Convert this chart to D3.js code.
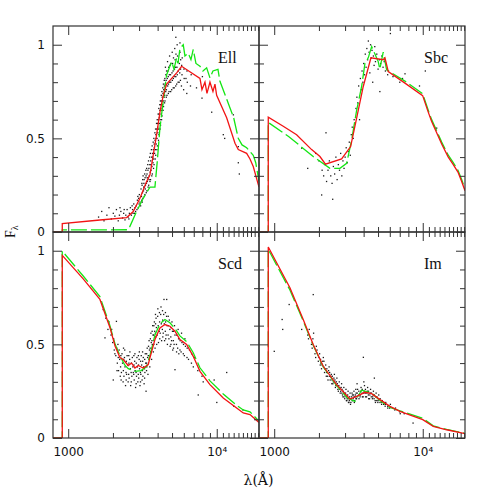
<!DOCTYPE html>
<html>
<head>
<meta charset="utf-8">
<script src="https://cdn.jsdelivr.net/npm/d3@7"></script>
<style>
body { margin: 0; background: #fff; }
svg { display: block; }
</style>
</head>
<body>
<svg id="chart" width="491" height="491"></svg>
<script>
//----------data-------------
var panelNames = ["Ell", "Sbc", "Scd", "Im"];

var xTickValues = [1000, 2000, 3000, 4000, 5000, 6000, 7000, 8000, 9000, 10000,
                   11000, 12000, 13000, 14000, 15000, 16000, 17000, 18000, 19000];
var xMajorTicks = [1000, 10000];
var xTickLabels = ["1000", "10\u2074"];
var yTickValues = [0, 0.1, 0.2, 0.3, 0.4, 0.5, 0.6, 0.7, 0.8, 0.9, 1];
var yMajorTicks = [0, 0.5, 1];
var yTickLabels = ["0", "0.5", "1"];

// [wavelength (A), F]
var ellRed = [[790,0],[912,0],[912,.045],[1635,.064],[2474,.077],[2740,.109],[3041,.18],[3373,.27],
  [3550,.305],[3736,.41],[3938,.52],[4145,.64],[4364,.73],[4600,.79],[4970,.82],[5370,.85],[5802,.885],
  [7709,.82],[7950,.76],[8330,.80],[8594,.74],[9000,.80],[9428,.75],[9726,.79],[9984,.73],[11660,.61],
  [13270,.474],[13960,.44],[15900,.42],[16740,.39],[17610,.35],[19250,.24]];
var ellGreen = [[790,0],[912,0],[912,.011],[2523,.012],[2603,.03],[2888,.11],[3200,.18],[3550,.24],
  [3836,.24],[3976,.376],[4145,.555],[4364,.70],[4600,.84],[4970,.91],[5150,.87],[5370,.93],[5482,.90],
  [5652,.98],[5950,1.0],[6107,.94],[6430,.955],[6704,.92],[6946,.975],[7244,.90],[7709,.885],[8075,.86],
  [8551,.877],[9000,.823],[9428,.86],[10190,.868],[10510,.805],[11660,.71],[13000,.61],[13960,.50],
  [14800,.465],[15900,.45],[17610,.41],[18300,.37],[19250,.27]];
var ellDots = [[1600,.08],[1680,.11],[1740,.06],[1820,.09],[1880,.13],[1950,.07],[2010,.10],[2060,.085],
  [2110,.12],[2170,.06],[2210,.09],[2260,.11],[2320,.075],[2360,.10],[2410,.065],[2440,.09],[2490,.12],
  [2530,.08],[2580,.10],[2620,.13],[2660,.09],[2710,.12],[2760,.15],[2790,.10],[2840,.11],[2870,.14],
  [2920,.17],[2960,.13],[3010,.20],[3040,.16],
  [2230,.13],[2380,.12],[2560,.07],[2690,.14],[2730,.10],[2810,.13],[2900,.12],[2980,.18],[3000,.15],[2940,.19],
  [3070,.14],[3110,.19],[3090,.23],[3130,.26],[3120,.17],
  [3150,.16],[3160,.21],[3140,.25],[3170,.28],
  [3180,.18],[3210,.22],[3230,.26],[3190,.30],[3220,.24],
  [3250,.19],[3260,.24],[3240,.28],[3270,.31],
  [3280,.20],[3310,.25],[3290,.29],[3330,.33],[3300,.23],
  [3350,.21],[3360,.26],[3340,.30],[3370,.34],
  [3380,.22],[3410,.27],[3390,.31],[3430,.36],[3400,.29],
  [3450,.24],[3460,.29],[3440,.33],[3470,.38],
  [3480,.25],[3510,.30],[3490,.34],[3530,.40],[3500,.28],
  [3550,.27],[3560,.32],[3540,.36],[3570,.42],
  [3580,.28],[3610,.33],[3590,.38],[3630,.44],[3600,.36],
  [3650,.30],[3660,.35],[3640,.40],[3670,.46],
  [3680,.31],[3720,.37],[3690,.42],[3730,.48],[3700,.40],
  [3750,.34],[3760,.39],[3740,.44],[3770,.50],
  [3780,.36],[3810,.42],[3790,.47],[3830,.53],[3800,.45],
  [3850,.39],[3860,.44],[3840,.49],[3870,.55],
  [3880,.41],[3910,.47],[3890,.52],[3930,.58],[3900,.50],
  [3950,.44],[3960,.50],[3940,.55],[3970,.60],
  [3980,.46],[4010,.53],[3990,.58],[4030,.63],[4000,.56],
  [4050,.49],[4060,.55],[4040,.60],[4070,.66],
  [4080,.52],[4110,.58],[4090,.63],[4130,.68],[4100,.61],
  [4150,.55],[4160,.60],[4140,.65],[4170,.70],
  [4180,.57],[4220,.63],[4190,.68],[4230,.73],[4200,.66],
  [4250,.60],[4260,.65],[4240,.70],[4270,.75],
  [4280,.62],[4320,.68],[4290,.72],[4330,.77],[4300,.70],
  [4350,.65],[4360,.70],[4340,.74],[4370,.79],
  [4380,.67],[4420,.72],[4390,.76],[4430,.81],[4400,.74],
  [4450,.69],[4460,.73],[4440,.78],[4470,.82],
  [4480,.70],[4530,.75],[4490,.79],[4540,.84],[4510,.88],
  [4570,.72],[4580,.76],[4560,.81],[4590,.86],
  [4620,.73],[4670,.78],[4640,.82],[4690,.86],[4660,.91],
  [4720,.74],[4730,.79],[4710,.83],[4740,.88],
  [4770,.75],[4820,.80],[4790,.84],[4840,.89],[4810,.94],
  [4890,.75],[4900,.80],[4880,.84],[4910,.90],
  [4970,.76],[5020,.81],[4990,.85],[5040,.90],[5010,.96],
  [5090,.77],[5100,.82],[5080,.86],[5110,.93],
  [5170,.77],[5220,.83],[5190,.87],[5240,.92],[5210,.98],
  [5290,.78],[5300,.83],[5280,.88],[5310,.95],
  [5370,.79],[5420,.84],[5390,.88],[5440,.94],[5410,1.0],
  [5490,.80],[5500,.86],[5480,.91],
  [5580,.80],[5630,.85],[5600,.90],[5650,.96],
  [5690,.81],[5700,.87],[5710,.92],
  [5780,.78],[5830,.84],[5800,.89],[5850,.93],
  [5980,.76],[6030,.82],[6010,.87],
  [6280,.74],[6330,.80],[6300,.86],
  [6650,.78],[6720,.84],
  [7300,.77],[7950,.715],[9240,.64],[11060,.52],[11300,.50],[12930,.626],[13960,.456],[13960,.37],
  [14180,.31],[5300,1.04],[5650,1.01],[6200,.82],[8000,.83]];

var sbcRed = [[790,0],[912,0],[912,.613],[1150,.565],[1415,.519],[1786,.44],[2032,.403],[2213,.362],
  [2843,.39],[3270,.456],[3588,.608],[3976,.777],[4479,.93],[5420,.92],[5566,.93],[5857,.857],[7590,.795],
  [9986,.728],[10890,.64],[11480,.59],[13410,.47],[14850,.40],[16050,.36],[17260,.32],[18280,.27],[19250,.22]];
var sbcGreen = [[790,0],[912,0],[912,.585],[1250,.51],[1830,.403],[2372,.34],[2770,.34],[3073,.367],
  [3320,.49],[3588,.65],[3878,.777],[4082,.90],[4296,.93],[4530,.99],[4766,.95],[5015,.91],[5137,.87],
  [5420,.96],[5713,.866],[7790,.80],[9986,.738],[10890,.65],[11480,.60],[13410,.48],[14850,.41],
  [16050,.37],[17260,.33],[18280,.28],[19250,.23]];
var sbcDots = [[1530,.448],[1680,.34],[1900,.42],[2000,.38],[2085,.198],[2100,.33],[2150,.30],[2200,.36],
  [2230,.53],[2250,.27],[2300,.33],[2350,.38],[2400,.30],[2474,.175],[2450,.26],[2500,.35],[2550,.31],
  [2600,.40],[2650,.28],[2700,.36],[2750,.33],[2800,.42],[2850,.30],[2900,.38],[2950,.34],[3000,.40],
  [3050,.45],[3100,.37],[3150,.43],[3200,.48],[3250,.41],[3300,.52],[3350,.56],[3400,.50],[3450,.60],
  [3550,.66],[3600,.72],[3650,.69],[3700,.78],[3750,.60],[3800,.82],[3850,.76],[3900,.86],[3950,.80],
  [4000,.90],[4050,.84],[4100,.95],[4150,.88],[4200,.98],[4250,.92],[4300,1.02],[4350,.96],[4400,.85],
  [4450,1.0],[4500,.93],[4550,.97],[4600,.80],[4650,.94],[4700,.89],[4750,.99],[4800,.91],[4900,.95],
  [5000,.87],[5100,.92],[5140,.75],[5200,.90],[5300,.94],[5400,.88],[5500,.91],[5600,.86],[5800,.84],
  [6050,1.06],[6300,.83],[7000,.80],[7590,.845],[7300,.82],[9500,.78],[10400,.86],[12400,.555]];

var scdRed = [[790,0],[912,0],[912,.975],[1262,.85],[1635,.74],[1909,.59],[2070,.49],[2229,.43],
  [2347,.419],[2536,.387],[2673,.40],[2813,.374],[2960,.387],[3200,.374],[3457,.392],[3550,.428],
  [3836,.526],[4145,.588],[4479,.606],[4840,.597],[5230,.57],[5652,.526],[6271,.50],[6946,.436],
  [7709,.356],[9000,.285],[11060,.214],[13610,.16],[15080,.134],[16740,.125],[19250,.083]];
var scdGreen = [[790,0],[912,0],[912,.998],[1262,.865],[1635,.755],[1909,.60],[2070,.50],[2229,.44],
  [2400,.39],[2536,.37],[2813,.356],[3100,.36],[3373,.383],[3550,.44],[3836,.55],[4145,.61],[4479,.633],
  [4840,.615],[5230,.585],[5652,.545],[6271,.515],[6946,.455],[7709,.375],[9000,.305],[11060,.235],
  [13610,.175],[15080,.15],[16740,.14],[19250,.09]];
var scdDots = [[1720,.686],[1767,.535],[1790,.64],[1850,.58],[1880,.62],[1940,.55],[1990,.51],[2009,.31],
  [2040,.47],[2110,.623],[2090,.44],[2140,.40],[2160,.50],
  [1960,.58],[2020,.53],[2060,.45],[2120,.48],[2170,.43],[2130,.36],
  [2180,.36],[2220,.42],[2200,.47],[2240,.33],
  [2250,.38],[2260,.44],[2270,.31],
  [2280,.35],[2320,.40],[2300,.45],[2340,.30],
  [2350,.36],[2360,.42],[2355,.48],
  [2370,.33],[2410,.38],[2390,.43],[2430,.28],[2400,.47],
  [2450,.35],[2460,.41],[2455,.31],
  [2470,.34],[2520,.39],[2490,.44],[2530,.30],
  [2550,.34],[2560,.40],[2555,.44],
  [2570,.32],[2620,.37],[2590,.42],[2630,.28],[2600,.46],
  [2650,.35],[2660,.40],[2655,.30],
  [2680,.33],[2720,.38],[2700,.43],[2740,.35],
  [2760,.34],[2770,.39],[2765,.44],
  [2780,.31],[2820,.36],[2800,.41],[2840,.27],[2810,.45],
  [2860,.35],[2870,.40],[2865,.29],
  [2880,.33],[2920,.38],[2900,.43],[2940,.30],
  [2960,.34],[2970,.39],[2965,.44],
  [2980,.32],[3020,.37],[3000,.42],[3040,.28],[3010,.46],
  [3060,.35],[3070,.41],[3065,.30],
  [3080,.34],[3120,.39],[3100,.44],[3140,.31],
  [3160,.36],[3170,.41],[3165,.46],
  [3180,.33],[3220,.38],[3200,.43],[3240,.29],
  [3260,.37],[3270,.42],[3265,.32],
  [3280,.35],[3320,.40],[3300,.45],[3340,.25],
  [3360,.40],[3370,.45],[3365,.36],
  [3380,.38],[3420,.43],[3400,.48],[3440,.34],
  [3460,.44],[3470,.49],[3465,.40],
  [3480,.42],[3520,.47],[3500,.52],[3540,.38],
  [3560,.48],[3570,.53],[3565,.44],
  [3580,.46],[3620,.51],[3600,.56],[3640,.42],
  [3660,.52],[3670,.57],[3665,.48],
  [3680,.50],[3720,.55],[3700,.60],[3740,.46],
  [3760,.55],[3770,.60],[3765,.50],
  [3780,.52],[3820,.57],[3800,.62],[3840,.48],
  [3860,.56],[3870,.61],[3865,.66],
  [3880,.54],[3920,.59],[3900,.64],[3940,.50],
  [3970,.55],[4030,.60],[4000,.65],[4050,.51],[4010,.69],
  [4100,.57],[4120,.62],[4110,.67],[4130,.53],
  [4160,.56],[4230,.61],[4190,.66],[4250,.52],[4210,.70],
  [4300,.58],[4320,.63],[4310,.68],[4330,.54],
  [4360,.56],[4430,.61],[4390,.66],[4450,.52],[4410,.74],
  [4500,.57],[4520,.62],[4510,.67],[4530,.53],
  [4560,.55],[4630,.60],[4590,.65],[4650,.50],[4600,.74],
  [4700,.55],[4720,.60],[4710,.65],
  [4760,.53],[4830,.58],[4790,.63],[4850,.49],
  [4900,.54],[4920,.59],[4910,.50],
  [4960,.52],[5030,.57],[4990,.62],[5050,.47],
  [5100,.52],[5120,.57],[5110,.48],
  [5160,.50],[5230,.55],[5190,.60],[5230,.365],
  [5350,.50],[5370,.55],[5360,.46],
  [5450,.48],[5530,.53],[5490,.58],[5550,.45],
  [5650,.47],[5670,.52],
  [5750,.46],[5830,.51],[5790,.56],
  [5950,.45],[5970,.50],
  [6050,.44],[6150,.49],[6100,.53],
  [6300,.43],[6320,.48],
  [6450,.42],[6550,.47],
  [6750,.40],[6770,.45],
  [6950,.38],[7050,.43],
  [7500,.23],[7450,.36],[7950,.33],[8100,.30],
  [9600,.31],[10000,.19],[11660,.35],[13000,.17],[15000,.15]];

var imRed = [[790,0],[912,0],[912,1.02],[1276,.802],[1568,.633],[1830,.499],[2138,.383],[2632,.285],
  [3235,.208],[3588,.222],[4082,.244],[4528,.237],[5150,.205],[6015,.169],[7023,.142],[10000,.098],
  [11770,.062],[14490,.044],[19250,.023]];
var imGreen = [[790,0],[912,0],[912,1.007],[1276,.79],[1568,.625],[1830,.495],[2138,.38],[2632,.28],
  [3100,.215],[3495,.196],[3878,.255],[4528,.24],[5150,.20],[6015,.163],[7023,.145],[10000,.105],
  [11770,.065],[14490,.046],[19250,.025]];
var imDots = [[1000,.463],[1130,.633],[1140,.58],[1260,.713],[1830,.766],[1530,.58],
  [1680,.55],[1720,.58],[1700,.53],
  [1780,.50],[1820,.53],[1800,.48],[1840,.56],
  [1880,.45],[1920,.49],[1900,.43],[1940,.47],
  [1980,.41],[2020,.45],[2000,.43],[2040,.39],
  [2050,.42],[2060,.40],
  [2080,.37],[2120,.41],[2100,.39],[2140,.43],
  [2150,.38],[2160,.41],
  [2180,.35],[2220,.39],[2200,.37],[2240,.33],
  [2250,.35],[2260,.37],
  [2280,.33],[2320,.36],[2300,.31],[2340,.38],
  [2350,.33],[2360,.35],
  [2380,.31],[2420,.34],[2400,.33],[2440,.29],
  [2450,.31],[2460,.33],
  [2480,.29],[2520,.32],[2500,.30],[2540,.34],
  [2550,.30],[2560,.31],
  [2580,.27],[2620,.30],[2600,.28],[2640,.32],
  [2650,.28],[2660,.29],
  [2680,.26],[2720,.28],[2700,.25],[2740,.30],
  [2750,.26],[2760,.27],
  [2780,.24],[2820,.27],[2800,.25],[2840,.29],
  [2850,.24],[2860,.26],
  [2880,.23],[2920,.25],[2900,.22],[2940,.27],
  [2950,.22],[2960,.24],
  [2980,.21],[3020,.24],[3000,.23],[3040,.26],
  [3050,.22],[3060,.20],
  [3080,.20],[3120,.23],[3100,.21],[3140,.25],
  [3150,.21],[3160,.19],
  [3180,.19],[3220,.22],[3200,.20],[3240,.24],
  [3250,.21],[3260,.18],
  [3280,.19],[3320,.22],[3300,.21],[3340,.24],
  [3350,.20],[3360,.23],
  [3380,.20],[3420,.23],[3400,.21],[3440,.25],
  [3450,.22],[3460,.19],
  [3480,.20],[3520,.23],[3500,.22],[3540,.26],
  [3550,.21],[3560,.24],
  [3580,.21],[3620,.24],[3600,.22],[3640,.26],[3610,.29],
  [3700,.23],[3710,.25],[3720,.21],
  [3780,.22],[3820,.25],[3800,.23],[3840,.27],
  [3900,.24],[3910,.26],[3920,.22],
  [3970,.22],[4030,.25],[4000,.24],[4050,.28],[4010,.30],
  [4100,.24],[4110,.26],[4120,.22],
  [4180,.22],[4230,.25],[4200,.24],[4250,.27],
  [4300,.23],[4310,.25],[4320,.21],
  [4380,.21],[4430,.24],[4400,.23],[4450,.26],
  [4500,.22],[4510,.24],
  [4580,.21],[4630,.23],[4600,.22],[4650,.25],
  [4700,.21],[4710,.23],
  [4780,.20],[4830,.22],[4800,.19],[4850,.24],
  [4900,.20],[4910,.22],
  [4980,.19],[5030,.21],[5000,.20],[5050,.23],
  [5150,.19],[5160,.21],
  [5280,.18],[5330,.20],[5300,.19],
  [5450,.18],[5460,.19],
  [5580,.17],[5630,.19],[5600,.18],
  [5800,.17],[5810,.16],
  [5980,.16],[6050,.18],[6480,.15],[6550,.16],[6980,.14],[7050,.13],
  [3980,.431],[4720,.32],[8600,.08],[7500,.13]];

//----------layout-------------
var svg = d3.select("#chart");
var pw = 206, ph = 206, marginLeft = 53, marginTop = 26;

var xScale = d3.scaleLog().domain([790, 19250]).range([0, pw]);
var yScale = d3.scaleLinear().domain([0, 1.1]).range([ph, 0]);

var panels = [
  {name: panelNames[0], col: 0, row: 0, red: ellRed, green: ellGreen, dots: ellDots},
  {name: panelNames[1], col: 1, row: 0, red: sbcRed, green: sbcGreen, dots: sbcDots},
  {name: panelNames[2], col: 0, row: 1, red: scdRed, green: scdGreen, dots: scdDots},
  {name: panelNames[3], col: 1, row: 1, red: imRed, green: imGreen, dots: imDots}
];

var line = d3.line()
  .x(function (d) { return xScale(d[0]); })
  .y(function (d) { return yScale(d[1]); });

var tickAxis = function (g, axis, values, size, tr) {
  g.append("g")
    .attr("transform", tr)
    .call(axis.tickValues(values).tickSize(size).tickFormat(""))
    .call(function (a) { a.select(".domain").remove(); })
    .selectAll("line").attr("stroke", "#333");
};

panels.forEach(function (p, i) {
  var g = svg.append("g")
    .attr("transform", "translate(" + (marginLeft + p.col * pw) + "," + (marginTop + p.row * ph) + ")");

  g.append("clipPath").attr("id", "clip" + i)
    .append("rect").attr("width", pw).attr("height", ph);

  var plot = g.append("g").attr("clip-path", "url(#clip" + i + ")");

  plot.selectAll("rect.dot")
    .data(p.dots)
    .enter()
    .append("rect")
    .attr("class", "dot")
    .attr("x", function (d) { return xScale(d[0]) - 0.6; })
    .attr("y", function (d) { return yScale(d[1]) - 0.6; })
    .attr("width", 1.3)
    .attr("height", 1.3)
    .attr("fill", "#1a1a1a");

  plot.append("path").datum(p.green)
    .attr("d", line)
    .attr("fill", "none")
    .attr("stroke", "#14e614")
    .attr("stroke-width", 1.3)
    .attr("stroke-dasharray", "16,4");

  plot.append("path").datum(p.red)
    .attr("d", line)
    .attr("fill", "none")
    .attr("stroke", "#f21414")
    .attr("stroke-width", 1.3);

  // inward ticks on all four sides
  var minorX = xTickValues.filter(function (v) { return xMajorTicks.indexOf(v) < 0; });
  var minorY = yTickValues.filter(function (v) { return yMajorTicks.indexOf(v) < 0; });
  tickAxis(g, d3.axisBottom(xScale), minorX, -5, "translate(0," + ph + ")");
  tickAxis(g, d3.axisBottom(xScale), xMajorTicks, -9, "translate(0," + ph + ")");
  tickAxis(g, d3.axisTop(xScale), minorX, -5, "translate(0,0)");
  tickAxis(g, d3.axisTop(xScale), xMajorTicks, -9, "translate(0,0)");
  tickAxis(g, d3.axisLeft(yScale), minorY, -5, "translate(0,0)");
  tickAxis(g, d3.axisLeft(yScale), yMajorTicks, -9, "translate(0,0)");
  tickAxis(g, d3.axisRight(yScale), minorY, -5, "translate(" + pw + ",0)");
  tickAxis(g, d3.axisRight(yScale), yMajorTicks, -9, "translate(" + pw + ",0)");

  g.append("rect")
    .attr("width", pw).attr("height", ph)
    .attr("fill", "none")
    .attr("stroke", "#333")
    .attr("stroke-width", 1.2);

  g.append("text")
    .attr("x", 165).attr("y", 37)
    .attr("font-family", "Liberation Serif, Times New Roman, serif")
    .attr("font-size", 16)
    .attr("fill", "#111")
    .text(p.name);

  // tick labels on outer panels only
  if (p.row == 1) {
    g.append("g")
      .attr("transform", "translate(0," + ph + ")")
      .call(d3.axisBottom(xScale).tickValues(xMajorTicks).tickSize(0).tickPadding(9)
        .tickFormat(function (d, k) { return xTickLabels[k]; }))
      .call(function (a) { a.select(".domain").remove(); })
      .selectAll("text")
      .attr("font-family", "DejaVu Sans, sans-serif")
      .attr("font-size", 12)
      .attr("fill", "#111");
  }
  if (p.col == 0) {
    g.append("g")
      .call(d3.axisLeft(yScale).tickValues(yMajorTicks).tickSize(0).tickPadding(8)
        .tickFormat(function (d, k) { return yTickLabels[k]; }))
      .call(function (a) { a.select(".domain").remove(); })
      .selectAll("text")
      .attr("font-family", "DejaVu Sans, sans-serif")
      .attr("font-size", 12)
      .attr("fill", "#111");
  }
});

//----------axis titles-------------
svg.append("text")
  .attr("x", 258.5).attr("y", 485)
  .attr("text-anchor", "middle")
  .attr("font-family", "DejaVu Serif, serif")
  .attr("font-size", 14)
  .attr("fill", "#111")
  .text("\u03bb(\u00c5)");

var yTitle = svg.append("text")
  .attr("transform", "translate(15,238) rotate(-90)")
  .attr("font-family", "Liberation Serif, serif")
  .attr("font-size", 14)
  .attr("fill", "#111");
yTitle.append("tspan").text("F");
yTitle.append("tspan").attr("dy", 3).attr("font-size", 10).text("\u03bb");
</script>
</body>
</html>
